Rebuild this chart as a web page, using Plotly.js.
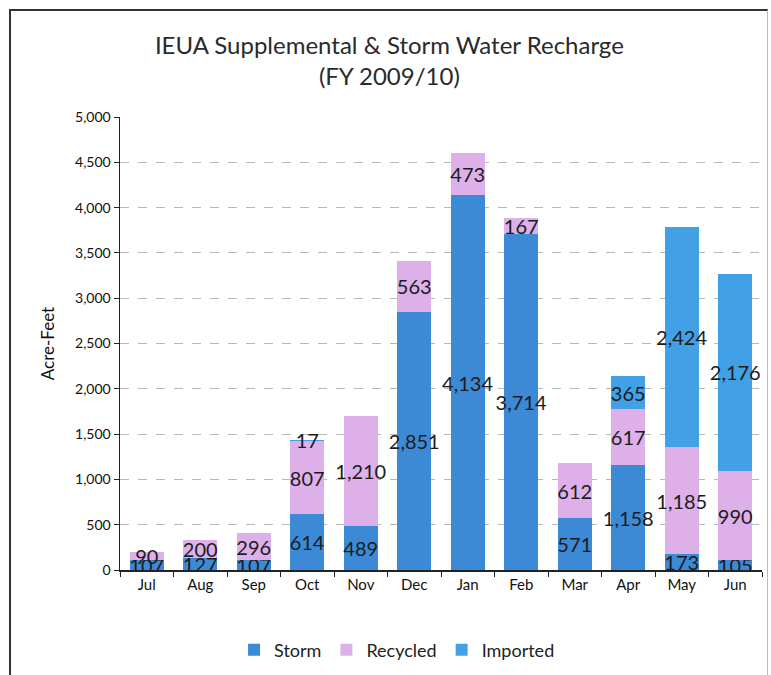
<!DOCTYPE html>
<html>
<head>
<meta charset="utf-8">
<script src="https://cdn.plot.ly/plotly-3.0.1.min.js"></script>
<style>
  html, body { margin: 0; padding: 0; background: #fff; }
  #wrap { position: relative; width: 771px; height: 675px; overflow: hidden; }
  #chart { width: 771px; height: 675px; }
  #frame { position: absolute; left: 9px; top: 9px; width: 756px; height: 700px;
           border: 2px solid #333; border-right: 1px solid #bbb; pointer-events: none; }
</style>
</head>
<body>
<div id="wrap">
  <div id="chart"></div>
  <div id="frame"></div>
</div>
<script>
const months = ["Jul","Aug","Sep","Oct","Nov","Dec","Jan","Feb","Mar","Apr","May","Jun"];
const storm    = [107, 127, 107, 614, 489, 2851, 4134, 3714, 571, 1158, 173, 105];
const recycled = [90, 200, 296, 807, 1210, 563, 473, 167, 612, 617, 1185, 990];
const imported = [null, null, null, 17, null, null, null, null, null, 365, 2424, 2176];

const FONT = "Lato, 'Open Sans', sans-serif";
const fmt = v => (v === null ? "" : v.toLocaleString("en-US"));

function series(name, values, color) {
  return {
    type: "bar",
    name: name,
    x: months,
    y: values,
    marker: { color: color, line: { width: 0 } },
    text: values.map(fmt),
    textposition: "inside",
    insidetextanchor: "middle",
    textangle: 0,
    constraintext: "none",
    textfont: { family: FONT, size: 20, color: "#1c1c1c" },
    hoverinfo: "x+y+name"
  };
}

const data = [
  series("Storm", storm, "#3C8AD6"),
  series("Recycled", recycled, "#DDB0EA"),
  series("Imported", imported, "#42A0E6")
];

const layout = {
  width: 771,
  height: 675,
  paper_bgcolor: "#ffffff",
  plot_bgcolor: "#ffffff",
  barmode: "stack",
  bargap: 0.36,
  margin: { l: 120, r: 9, t: 117, b: 105 },
  uniformtext: { mode: "show", minsize: 20 },
  title: {
    text: "IEUA Supplemental & Storm Water Recharge<br>(FY 2009/10)",
    font: { family: FONT, size: 24, color: "#2a2a2a" },
    x: 0.505, xref: "container", xanchor: "center",
    y: 0.92, yref: "container", yanchor: "top"
  },
  xaxis: {
    type: "category",
    showline: true, linecolor: "#222", linewidth: 1.5,
    ticks: "outside", tickson: "boundaries", ticklen: 5, tickcolor: "#222",
    tickfont: { family: FONT, size: 15, color: "#111" },
    showgrid: false,
    fixedrange: true
  },
  yaxis: {
    range: [0, 5000],
    dtick: 500,
    tickformat: ",d",
    showline: true, linecolor: "#222", linewidth: 1.5,
    ticks: "outside", ticklen: 5, tickcolor: "#222",
    tickfont: { family: FONT, size: 14, color: "#111" },
    showgrid: true, gridcolor: "#b8b8b8", griddash: "dash", gridwidth: 1,
    zeroline: false,
    title: { text: "Acre-Feet", font: { family: FONT, size: 17, color: "#111" }, standoff: 16 },
    fixedrange: true
  },
  showlegend: true,
  legend: {
    orientation: "h",
    xref: "container", yref: "container",
    x: 0.515, xanchor: "center",
    y: 0.037, yanchor: "middle",
    font: { family: FONT, size: 18, color: "#222" },
    itemwidth: 30,
    traceorder: "normal"
  }
};

Plotly.newPlot("chart", data, layout, { displayModeBar: false, staticPlot: true });
</script>
</body>
</html>
